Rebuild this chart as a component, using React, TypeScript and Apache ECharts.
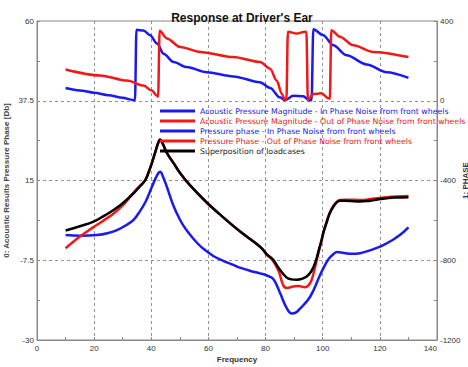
import React, { useEffect, useRef } from "react";
import * as echarts from "echarts";

const title = "Response at Driver's Ear";
const xName = "Frequency";
const leftName = "0: Acoustic Results Pressure Phase [Db]";
const rightName = "1: PHASE";
const leftTickLabels = ["-30", "-7.5", "15", "37.5", "60"];

const names = [
  "Acoustic Pressure Magnitude - In Phase Noise from front wheels",
  "Acoustic Pressure Magnitude - Out of Phase Noise from front wheels",
  "Pressure phase - In Phase Noise from front wheels",
  "Pressure Phase - Out of Phase Noise from front wheels",
  "Superposition of loadcases",
];

const magIn: [number, number][] = [
  [10, -0.4], [15, -0.6], [21, -0.4], [25, 0.2], [28, 1.0], [31, 2.3], [33.8, 3.9],
  [36, 6.3], [38, 9.0], [40, 12.8], [41.5, 15.6], [42.5, 17.1], [43.1, 17.5], [44, 16.3],
  [45.5, 13.1], [47.8, 7.8], [50, 4.0], [51.3, 2.2], [53, 0.3], [55.9, -2.5], [58, -4.1],
  [61.7, -6.3], [65, -7.6], [68.7, -8.8], [71, -9.6], [75, -10.6], [78, -11.2], [80.4, -11.8],
  [82.7, -12.8], [85, -16.6], [87.4, -21], [89.2, -22.5], [90.5, -22.3], [92, -21.2],
  [95.6, -17.8], [99, -11.8], [100.2, -9.8], [102, -7.2], [103.7, -5.8], [105, -5.2],
  [106.5, -5.3], [108.5, -5.6], [110.7, -5.7], [113, -5.5], [115.4, -5.0], [118, -4.3],
  [121.2, -3.2], [124, -2], [127, -0.4], [130, 1.8],
];

const magOut: [number, number][] = [
  [10, -4.1], [12.5, -2.4], [15.1, -0.8], [18, 0.9], [21, 2.5], [24, 4.1], [26.8, 5.7],
  [30, 8.0], [32.6, 10.4], [35, 12.7], [37.9, 15.1], [39, 17.2], [40.2, 19.9], [41.5, 23.3],
  [42.5, 25.8], [43.1, 26.6], [44, 25.4], [45.5, 22.7], [47.8, 19.9], [50, 17.2], [53.6, 13.6],
  [59.4, 8.8], [65.2, 4.6], [71.1, 0.6], [76.9, -2.9], [79, -4.4], [80.4, -6.0], [82.2, -7.2],
  [84.5, -10.4], [86.2, -14.6], [87.5, -15.3], [89.7, -14.9], [91.5, -14.8], [93.8, -15.1],
  [95, -14.6], [96.1, -13.1], [97.3, -9.5], [98.5, -5.5], [99.6, -2.0], [100.5, 1.0],
  [101.5, 3.7], [102.5, 6.0], [103.7, 7.8], [105, 9.0], [106, 9.5], [108, 9.6], [110, 9.6],
  [113, 9.5], [115.4, 9.6], [118, 9.9], [122.4, 10.3], [126, 10.5], [130, 10.6],
];

const superpos: [number, number][] = [
  [10, 0.9], [15, 2.1], [19.8, 3.4], [23, 4.8], [26.8, 6.7], [30, 8.6], [33.8, 11.4],
  [36, 13.3], [37.9, 15.1], [39, 17.2], [40.2, 19.9], [41.5, 23.3], [42.5, 25.8], [43.1, 26.6],
  [44, 25.4], [45.5, 22.7], [47.8, 19.9], [50, 17.2], [53.6, 13.6], [59.4, 8.8], [65.2, 4.6],
  [71.1, 0.6], [76.9, -2.9], [79, -4.4], [80.4, -5.8], [82.7, -7.4], [84.5, -9.6],
  [87.4, -12.4], [89, -12.9], [90.9, -13.0], [92.5, -12.8], [94.4, -12.1], [96, -10.6],
  [97.3, -8.4], [98.5, -5], [99.6, -1.8], [100.2, 0.3], [101.5, 3.5], [102.5, 5.8],
  [103.7, 7.6], [105, 8.9], [106, 9.3], [108, 9.3], [110, 9.2], [113, 9.1], [115.4, 9.2],
  [118, 9.5], [122.4, 10.0], [126, 10.2], [130, 10.3],
];

const phaseIn: [number, number][] = [
  [10, 64], [15, 52], [20, 40], [25, 28], [30, 15], [33.5, 4], [34.3, 2], [34.8, 356],
  [37.3, 352], [39.6, 329], [42, 287], [44.3, 236], [47.8, 194], [52.4, 169], [59.4, 143],
  [68.7, 122], [78, 93], [81.6, 64], [85, 17], [86.8, 3], [89.7, 25], [93.2, 22], [95.3, 3],
  [96.1, 2], [96.7, 358], [100.2, 329], [103.7, 278], [108.4, 228], [115.4, 182],
  [122.4, 143], [130, 115],
];

const phaseOut: [number, number][] = [
  [10, 157], [22.1, 127], [31.5, 101], [37.3, 76], [40.2, 51], [42, 25], [42.4, 20],
  [42.9, 351], [45.5, 312], [50.1, 270], [57.1, 245], [68.7, 219], [78.1, 194], [81.6, 160],
  [83.9, 101], [85.7, 34], [86.8, 4], [87.3, 5], [87.8, 346], [90.9, 337], [93.8, 346],
  [94.3, 345], [94.8, 5], [96.7, 34], [99.6, 37], [102, 13], [102.5, 10], [103, 354],
  [106, 321], [110.7, 278], [117.7, 245], [130, 219],
];

const BLUE = "#1a1aee";
const RED = "#f01818";
const BLACK = "#000000";
const FONT = "Liberation Sans";
const LEGEND_FONT = "DejaVu Sans";

export default function App() {
  const ref = useRef<HTMLDivElement>(null);
  useEffect(() => {
    if (!ref.current) return;
    const chart = echarts.init(ref.current, undefined, { renderer: "svg" });
    const dash = { type: [3, 3] as any, color: "#777", width: 0.8 };
    const axisLabel = {
      fontSize: 8,
      color: "#333",
      fontFamily: FONT,
      showMinLabel: true,
      showMaxLabel: true,
      hideOverlap: false,
    };
    const mk = (
      i: number,
      data: [number, number][],
      color: string,
      yAxisIndex: number,
      phase: boolean
    ) => ({
      name: names[i],
      type: "line",
      data,
      yAxisIndex,
      symbol: "none",
      smooth: phase ? 0.3 : 0.4,
      ...(phase ? { smoothMonotone: "x" } : {}),
      lineStyle: { color, width: 2.5 },
      itemStyle: { color },
    });
    chart.setOption({
      animation: false,
      backgroundColor: "#fff",
      title: {
        text: title,
        left: 237,
        textAlign: "center",
        top: 7,
        textStyle: { fontSize: 12, fontWeight: "bold", color: "#111", fontFamily: FONT },
      },
      legend: {
        orient: "vertical",
        left: 160,
        top: 107,
        padding: 0,
        icon: "rect",
        itemWidth: 35,
        itemHeight: 3,
        itemGap: 2,
        textStyle: { fontSize: 7.8, fontFamily: LEGEND_FONT, lineHeight: 8 },
        data: [
          { name: names[0], textStyle: { color: BLUE } },
          { name: names[1], textStyle: { color: RED } },
          { name: names[2], textStyle: { color: BLUE } },
          { name: names[3], textStyle: { color: RED } },
          { name: names[4], textStyle: { color: "#222" } },
        ],
      },
      grid: {
        left: 37,
        right: 31,
        top: 21,
        bottom: 27,
        show: true,
        borderColor: "#888",
        borderWidth: 1,
        containLabel: false,
        outerBoundsMode: "none",
      },
      xAxis: {
        type: "value",
        min: 0,
        max: 140,
        interval: 20,
        name: xName,
        nameLocation: "middle",
        nameGap: 15,
        nameMoveOverlap: false,
        nameTextStyle: { fontSize: 8, fontWeight: "bold", color: "#333", fontFamily: FONT },
        axisLine: { onZero: false, lineStyle: { color: "#888" } },
        axisTick: { inside: true, length: 3, lineStyle: { color: "#888" } },
        minorTick: { show: true, splitNumber: 2, length: 3, lineStyle: { color: "#888" } },
        axisLabel: {
          ...axisLabel,
          margin: 5,
          lineHeight: 7,
          alignMaxLabel: "right",
          formatter: (v: number) => String(v),
        },
        splitLine: { show: true, lineStyle: dash, showMinLine: false, showMaxLine: false },
      },
      yAxis: [
        {
          type: "value",
          min: -30,
          max: 60,
          show: false,
          splitLine: { show: false },
        },
        {
          type: "value",
          position: "right",
          min: -1200,
          max: 400,
          interval: 400,
          name: rightName,
          nameLocation: "middle",
          nameGap: 24,
          nameMoveOverlap: false,
          nameTextStyle: { fontSize: 8, fontWeight: "bold", color: "#333", fontFamily: FONT },
          axisLine: { show: true, onZero: false, lineStyle: { color: "#888" } },
          axisTick: { show: true, inside: true, length: 3, lineStyle: { color: "#888" } },
          minorTick: { show: true, splitNumber: 2, length: 3, lineStyle: { color: "#888" } },
          axisLabel: {
            ...axisLabel,
            margin: 3,
            lineHeight: 6,
            formatter: (v: number) => String(v),
          },
          splitLine: { show: false },
        },
        {
          type: "value",
          position: "left",
          min: 0,
          max: 4,
          interval: 1,
          name: leftName,
          nameLocation: "middle",
          nameGap: 27,
          nameMoveOverlap: false,
          nameTextStyle: { fontSize: 8, fontWeight: "bold", color: "#444", fontFamily: FONT },
          axisLine: { show: true, onZero: false, lineStyle: { color: "#888" } },
          axisTick: { show: true, inside: true, length: 3, lineStyle: { color: "#888" } },
          minorTick: { show: true, splitNumber: 2, length: 3, lineStyle: { color: "#888" } },
          axisLabel: {
            ...axisLabel,
            margin: 3,
            lineHeight: 6,
            formatter: (v: number) => leftTickLabels[Math.round(v)] ?? "",
          },
          splitLine: { show: true, lineStyle: dash, showMinLine: false, showMaxLine: false },
        },
      ],
      series: [
        mk(2, phaseIn, BLUE, 1, true),
        mk(3, phaseOut, RED, 1, true),
        mk(0, magIn, BLUE, 0, false),
        mk(1, magOut, RED, 0, false),
        mk(4, superpos, BLACK, 0, false),
      ],
    });
    return () => chart.dispose();
  }, []);
  return (
    <div
      ref={ref}
      style={{ position: "absolute", left: 0, top: 0, width: 468, height: 367 }}
    />
  );
}
